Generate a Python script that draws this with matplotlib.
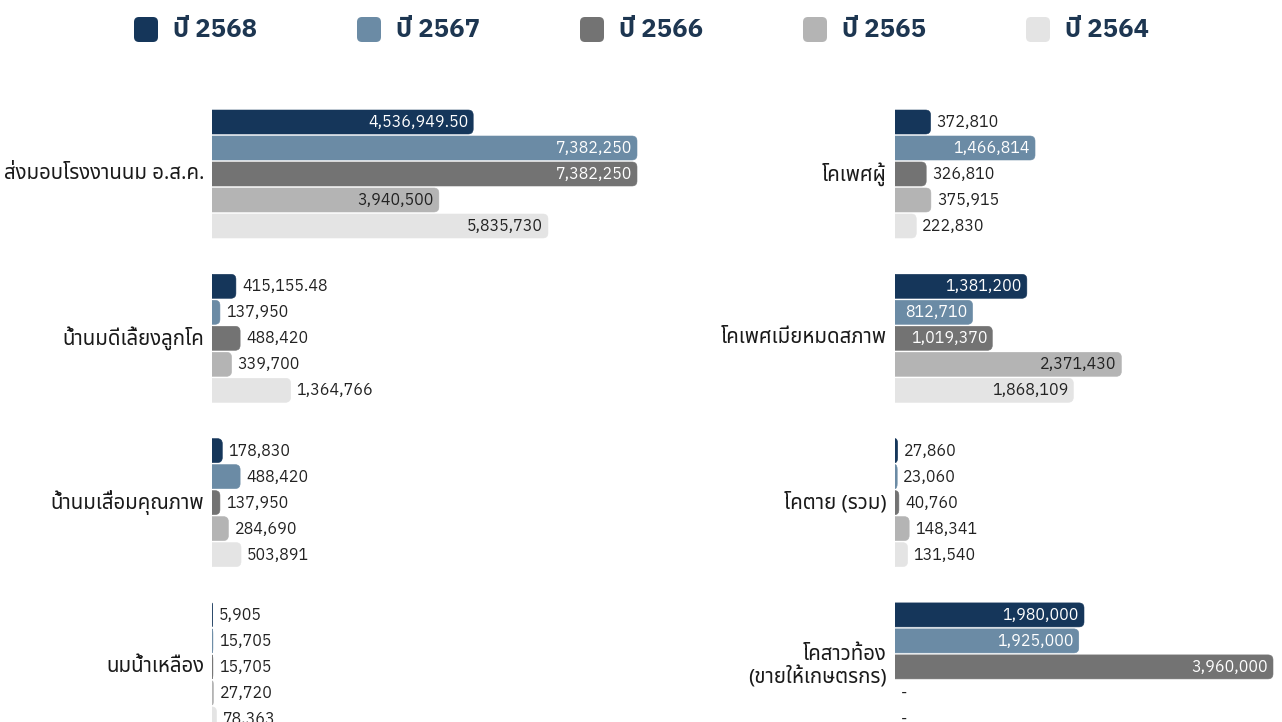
import matplotlib
matplotlib.use("Agg")
import matplotlib.pyplot as plt
from matplotlib.path import Path
from matplotlib.patches import PathPatch, FancyBboxPatch
from matplotlib import font_manager

years = ["ปี 2568", "ปี 2567", "ปี 2566", "ปี 2565", "ปี 2564"]
colors = ["#15365a", "#6b8ba5", "#737373", "#b4b4b4", "#e4e4e4"]
inside_text = ["white", "white", "white", "#222222", "#222222"]

left_cats = ["ส่งมอบโรงงานนม อ.ส.ค.", "น้ำนมดีเลี้ยงลูกโค", "น้ำนมเสื่อมคุณภาพ", "นมน้ำเหลือง"]
left_2568 = [4536949.50, 415155.48, 178830, 5905]
left_2567 = [7382250, 137950, 488420, 15705]
left_2566 = [7382250, 488420, 137950, 15705]
left_2565 = [3940500, 339700, 284690, 27720]
left_2564 = [5835730, 1364766, 503891, 78363]

right_cats = ["โคเพศผู้", "โคเพศเมียหมดสภาพ", "โคตาย (รวม)", "โคสาวท้อง\n(ขายให้เกษตรกร)"]
right_2568 = [372810, 1381200, 27860, 1980000]
right_2567 = [1466814, 812710, 23060, 1925000]
right_2566 = [326810, 1019370, 40760, 3960000]
right_2565 = [375915, 2371430, 148341, 0]
right_2564 = [222830, 1868109, 131540, 0]

W, H = 1282, 722
PITCH = 26          # px per bar slot
GROUP = 164.3 / PITCH
TOP = 122           # px, centre of first bar
BAR_H = 24 / PITCH
RADIUS = 5          # px

installed = {f.name for f in font_manager.fontManager.ttflist}
thai = [n for n in ["IBM Plex Sans Thai", "Anuphan", "Noto Sans Thai"] if n in installed]
cat_font = [n for n in ["Noto Sans Thai", "IBM Plex Sans Thai"] if n in installed][:1] + ["DejaVu Sans"]
plt.rcParams["font.family"] = thai[:1] + ["DejaVu Sans"]


def fmt(v):
    if v == 0:
        return "-"
    if v != int(v):
        return f"{v:,.2f}"
    return f"{v:,.0f}"


def rounded_patch(rect, rx, ry, color):
    x0, y0 = rect.get_x(), rect.get_y()
    w, h = rect.get_width(), rect.get_height()
    x1, y1 = x0 + w, y0 + h
    rx = min(rx, w)
    verts = [(x0, y0), (x1 - rx, y0), (x1, y0), (x1, y0 + ry),
             (x1, y1 - ry), (x1, y1), (x1 - rx, y1), (x0, y1), (x0, y0)]
    codes = [Path.MOVETO, Path.LINETO, Path.CURVE3, Path.CURVE3,
             Path.LINETO, Path.CURVE3, Path.CURVE3, Path.LINETO, Path.CLOSEPOLY]
    return PathPatch(Path(verts, codes), facecolor=color, edgecolor=color, linewidth=0.4)


fig = plt.figure(figsize=(W / 100, H / 100), dpi=100)
renderer = fig.canvas.get_renderer()


def panel(cats, series, left_px, right_px, xmax):
    ax = fig.add_axes([left_px / W, 0, (right_px - left_px) / W, 1])
    ax.set_xlim(0, xmax)
    ax.set_ylim((H - TOP) / PITCH, -TOP / PITCH)
    ax.axis("off")
    ppx = (right_px - left_px) / xmax
    rx = RADIUS / ppx
    ry = RADIUS / PITCH
    for i, vals in enumerate(series):
        ys = [g * GROUP + i for g in range(len(cats))]
        bars = ax.barh(ys, vals, height=BAR_H, color=colors[i])
        for bar, v, y in zip(bars, vals, ys):
            bar.set_visible(False)
            if v > 0:
                ax.add_patch(rounded_patch(bar, rx, ry, colors[i]))
            t = ax.annotate(fmt(v), (v, y), xytext=(-5, 0), textcoords="offset pixels",
                            ha="right", va="center", fontsize=11.5, color=inside_text[i])
            tw = t.get_window_extent(renderer).width
            if v == 0 or tw + 10 > v * ppx:
                t.xyann = (6, 0)
                t.set_ha("left")
                t.set_color("#222222")
    for g, c in enumerate(cats):
        ax.annotate(c, (0, g * GROUP + 2), xytext=(-8, 0), textcoords="offset pixels",
                    ha="right", va="center", fontsize=14.7, color="#1a1a1a",
                    family=cat_font, linespacing=1.1)
    return ax


panel(left_cats, [left_2568, left_2567, left_2566, left_2565, left_2564], 212, 641, 7451700)
panel(right_cats, [right_2568, right_2567, right_2566, right_2565, right_2564], 895, 1282, 4054286)

# legend across the top
lg = fig.add_axes([0, 0, 1, 1])
lg.set_xlim(0, W)
lg.set_ylim(H, 0)
lg.axis("off")
for k, (name, c) in enumerate(zip(years, colors)):
    x = 134 + k * 223
    lg.add_patch(FancyBboxPatch((x, 17), 24, 25, boxstyle="round,pad=0,rounding_size=5",
                                facecolor=c, edgecolor="none"))
    lg.text(x + 39, 30, name, ha="left", va="center", fontsize=18.5,
            fontweight="bold", color="#1d3651")

fig.savefig("out.png", dpi=100)
